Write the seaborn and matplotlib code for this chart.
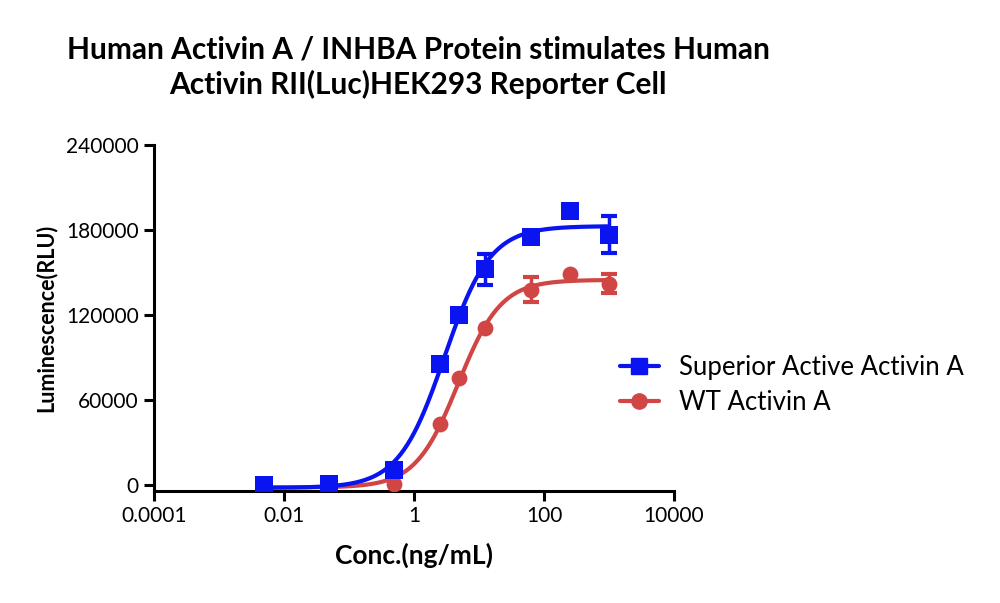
import numpy as np
import pandas as pd
import matplotlib
matplotlib.use("Agg")
import matplotlib.pyplot as plt
from matplotlib.lines import Line2D
import seaborn as sns

# concentrations (ng/mL) and luminescence readings
conc = [0.005, 0.05, 0.5, 2.5, 5, 12.5, 62.5, 250, 1000]
superior_rlu = [0, 500, 10400, 85300, 119600, 152100, 175000, 193500, 176500]
superior_err = [0, 0, 0, 0, 0, 11000, 0, 0, 13000]
wt_rlu = [0, 0, 300, 42600, 75100, 110600, 137900, 149000, 142100]
wt_err = [0, 0, 0, 0, 0, 0, 9000, 0, 7000]

series_names = ["Superior Active Activin A", "WT Activin A"]
series_colors = ["#0a14f0", "#d14545"]
series_markers = ["s", "o"]

x_ticks = [1e-4, 1e-2, 1, 100, 1e4]
x_tick_labels = ["0.0001", "0.01", "1", "100", "10000"]
y_ticks = [0, 60000, 120000, 180000, 240000]


def model_4pl(p, lx):
    bottom, top, logec, hill = p
    return bottom + (top - bottom) / (1 + 10 ** ((logec - lx) * hill))


def fit_4pl(x, y, p0):
    '''Small Levenberg-Marquardt fit of a 4-parameter logistic curve.'''
    lx = np.log10(np.asarray(x, float))
    y = np.asarray(y, float)
    p = np.array(p0, float)
    lam = 1e-3
    for _ in range(300):
        r = y - model_4pl(p, lx)
        J = np.empty((len(lx), 4))
        for k in range(4):
            dp = np.zeros(4)
            dp[k] = 1e-6 * max(abs(p[k]), 1)
            J[:, k] = (model_4pl(p + dp, lx) - model_4pl(p - dp, lx)) / (2 * dp[k])
        A = J.T @ J
        g = J.T @ r
        step = np.linalg.solve(A + lam * np.diag(np.diag(A)), g)
        newp = p + step
        if np.sum((y - model_4pl(newp, lx)) ** 2) < np.sum(r ** 2):
            p = newp
            lam *= 0.3
        else:
            lam *= 10
    return p


sns.set_theme(style="ticks")
plt.rcParams["font.family"] = ["Lato", "DejaVu Sans"]
plt.rcParams["text.color"] = "black"
plt.rcParams["axes.labelcolor"] = "black"

fig = plt.figure(figsize=(10, 6.03), dpi=100)
ax = fig.add_axes([0.154, 0.1857, 0.52, 0.5738])

xs = np.logspace(np.log10(conc[0]), np.log10(conc[-1]), 300)
handles = []
for name, rlu, err, color, marker, z in zip(series_names, [superior_rlu, wt_rlu],
                                            [superior_err, wt_err], series_colors,
                                            series_markers, [4, 3]):
    p = fit_4pl(conc, rlu, [min(rlu), max(rlu), np.log10(3), 1.5])
    curve = pd.DataFrame({"x": xs, "y": model_4pl(p, np.log10(xs))})
    sns.lineplot(data=curve, x="x", y="y", ax=ax, color=color, linewidth=3, zorder=z)
    pts = pd.DataFrame({"x": conc, "y": rlu, "err": err})
    sns.scatterplot(data=pts, x="x", y="y", ax=ax, color=color, marker=marker,
                    s=150 if marker == "s" else 130, linewidth=0, zorder=z + 1)
    bars = pts[pts.err > 0]
    ax.errorbar(bars.x, bars.y, yerr=bars.err, fmt="none", ecolor=color,
                elinewidth=2.5, capsize=6, capthick=3, zorder=z + 1)
    handles.append(Line2D([], [], color=color, marker=marker, markersize=11,
                          linewidth=3, label=name))

ax.set_xscale("log")
ax.set_xlim(1e-4, 1e4)
ax.set_ylim(-4500, 240000)
ax.set_xticks(x_ticks)
ax.set_xticklabels(x_tick_labels)
ax.minorticks_off()
ax.set_yticks(y_ticks)
ax.set_yticklabels([str(v) for v in y_ticks])
ax.tick_params(axis="both", labelsize=15, width=2.2, length=7, color="black",
               labelcolor="black", pad=4)
for side in ["left", "bottom"]:
    ax.spines[side].set_linewidth(2.2)
    ax.spines[side].set_color("black")
sns.despine(ax=ax)

ax.set_xlabel("Conc.(ng/mL)", fontsize=19, fontweight="bold", labelpad=12)
ax.set_ylabel("Luminescence(RLU)", fontsize=15.5, fontweight="bold", labelpad=7)

fig.text(0.418, 0.889, "Human Activin A / INHBA Protein stimulates Human\n"
         "Activin RII(Luc)HEK293 Reporter Cell", ha="center", va="center",
         fontsize=21.5, fontweight="bold", linespacing=1.25)

ax.legend(handles=handles, loc="center left", bbox_to_anchor=(0.62, 0.3615),
          bbox_transform=fig.transFigure, borderpad=0, borderaxespad=0,
          frameon=False, fontsize=18.5, handlelength=1.5, handletextpad=0.8,
          labelspacing=0.42)

fig.savefig("out.png", dpi=100)
